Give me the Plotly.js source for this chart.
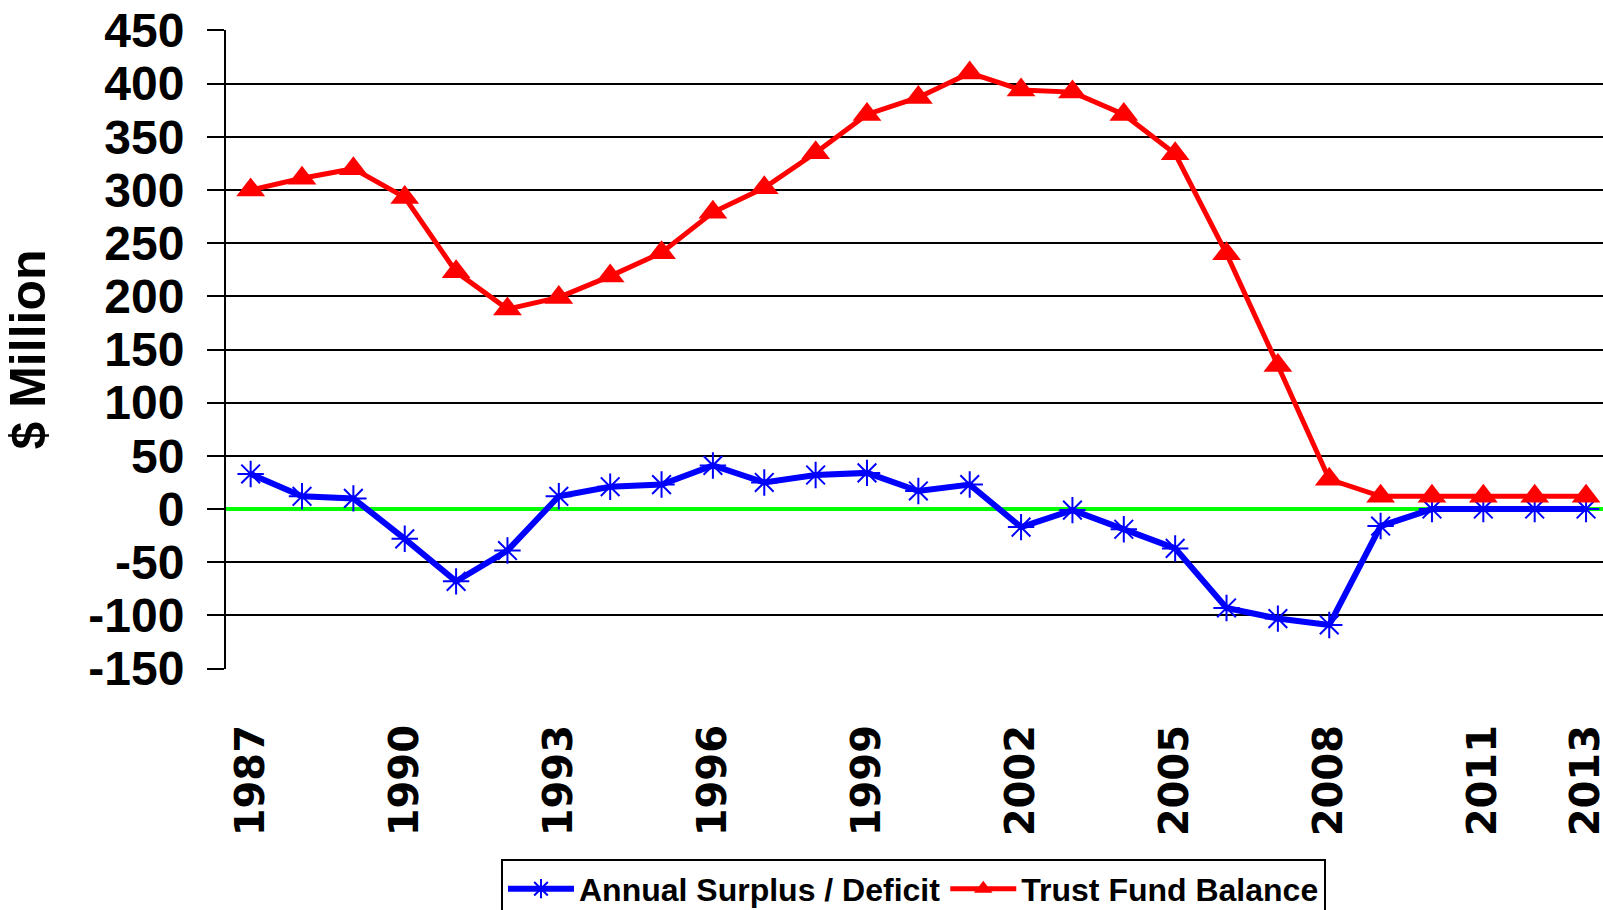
<!DOCTYPE html>
<html>
<head>
<meta charset="utf-8">
<script src="https://cdn.plot.ly/plotly-3.0.1.min.js"></script>
<style>
  html, body { margin: 0; padding: 0; background: #ffffff; }
  #chart { width: 1603px; height: 910px; }
</style>
</head>
<body>
<div id="chart"></div>
<script>
const years = [1987, 1988, 1989, 1990, 1991, 1992, 1993, 1994, 1995, 1996, 1997, 1998, 1999,
               2000, 2001, 2002, 2003, 2004, 2005, 2006, 2007, 2008, 2009, 2010, 2011, 2012, 2013];
const annualSurplusDeficit = [33, 12, 10, -28, -68, -39, 12, 21, 23, 41, 25, 32, 34,
                              17, 23, -17, -1, -19, -37, -93, -103, -109, -16, 0, 0, 0, 0];
const trustFundBalance = [300, 311, 320, 293, 223, 188, 199, 219, 241, 279, 302, 335, 371,
                          387, 410, 394, 392, 371, 334, 240, 135, 28, 12, 12, 12, 12, 12];
const xTickYears = [1987, 1990, 1993, 1996, 1999, 2002, 2005, 2008, 2011, 2013];
const xTickLabels = ['1987', '1990', '1993', '1996', '1999', '2002', '2005', '2008', '2011', '2013'];
const yTickValues = [-150, -100, -50, 0, 50, 100, 150, 200, 250, 300, 350, 400, 450];
const yTickLabels = ['-150', '-100', '-50', '0', '50', '100', '150', '200', '250', '300', '350', '400', '450'];
const seriesNames = ['Annual Surplus / Deficit', 'Trust Fund Balance'];

const boldFont = 'Liberation Sans, Arial, sans-serif';

const traces = [
  {
    x: years, y: annualSurplusDeficit, name: seriesNames[0],
    type: 'scatter', mode: 'lines+markers',
    line: { color: '#0000ff', width: 6 },
    marker: { symbol: 'asterisk-open', size: 22, color: '#0000ff', line: { color: '#0000ff', width: 2 } }
  },
  {
    x: years, y: trustFundBalance, name: seriesNames[1],
    type: 'scatter', mode: 'lines+markers',
    line: { color: '#ff0000', width: 5 },
    marker: { symbol: 'triangle-up', size: 25, color: '#ff0000' }
  }
];

const layout = {
  width: 1603, height: 910,
  margin: { l: 226, r: 0, t: 30, b: 241, pad: 0, autoexpand: false },
  paper_bgcolor: '#ffffff', plot_bgcolor: '#ffffff',
  showlegend: true,
  xaxis: {
    range: [1986.52, 2013.33],
    showgrid: false, zeroline: false, showline: false,
    ticks: '', tickmode: 'array', tickvals: xTickYears, ticktext: xTickLabels,
    tickangle: -90,
    tickfont: { family: 'DejaVu Sans, sans-serif', size: 40, color: '#000000', weight: 'bold' },
    ticklabelstandoff: 47,
    ticklabeloverflow: 'allow',
    automargin: false, fixedrange: true
  },
  yaxis: {
    range: [-150.4, 450.4],
    tickmode: 'array', tickvals: yTickValues, ticktext: yTickLabels,
    showgrid: true, gridcolor: '#000000', gridwidth: 2,
    zeroline: true, zerolinecolor: '#00ff00', zerolinewidth: 4,
    showline: true, linecolor: '#000000', linewidth: 2,
    ticks: 'outside', ticklen: 17, tickwidth: 2, tickcolor: '#000000',
    tickfont: { family: boldFont, size: 48, color: '#000000', weight: 'bold' },
    ticklabelstandoff: 13,
    title: { text: '$ Million', font: { family: boldFont, size: 50, color: '#000000', weight: 'bold' }, standoff: 48 },
    automargin: false, fixedrange: true
  },
  legend: {
    orientation: 'h', x: 0.1997, xanchor: 'left', y: -0.298, yanchor: 'top',
    font: { family: boldFont, size: 32, color: '#000000', weight: 'bold' },
    bordercolor: '#000000', borderwidth: 2, bgcolor: '#ffffff',
    itemwidth: 66
  }
};

Plotly.newPlot('chart', traces, layout, { staticPlot: true, displayModeBar: false });
</script>
</body>
</html>
